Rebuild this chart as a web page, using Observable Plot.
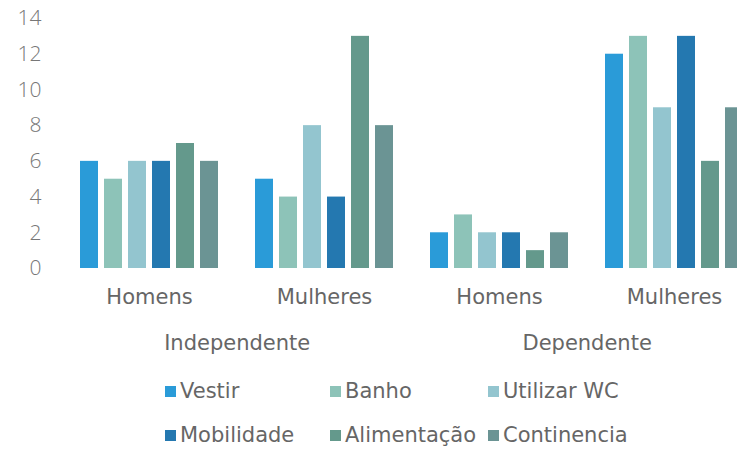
<!DOCTYPE html>
<html>
<head>
<meta charset="utf-8">
<script src="https://cdn.jsdelivr.net/npm/d3@7"></script>
<script src="https://cdn.jsdelivr.net/npm/@observablehq/plot@0.6"></script>
<style>
  html, body { margin: 0; padding: 0; background: #fff; overflow: hidden; width: 737px; height: 449px; }
  #chart { width: 737px; height: 365px; overflow: hidden; }
  #chart svg { display: block; max-width: none !important; height: 365px !important; }
  #legend { position: relative; height: 84px; font-family: "DejaVu Sans", sans-serif; font-size: 21px; color: #666; }
  .item { position: absolute; display: flex; align-items: center; height: 44px; }
  .sw { width: 11px; height: 11px; margin-right: 4px; display: inline-block; }
</style>
</head>
<body>
<div id="chart"></div>
<div id="legend"></div>
<script>
const groups = ["Independente", "Dependente"];
const sexes = ["Homens", "Mulheres"];
const activities = ["Vestir", "Banho", "Utilizar WC", "Mobilidade", "Alimentação", "Continencia"];
const colors = ["#2a9bd8", "#8dc3b8", "#93c5cf", "#2478b0", "#64998c", "#6b9494"];
// values in order: Independente-Homens, Independente-Mulheres, Dependente-Homens, Dependente-Mulheres
const vestir      = [6, 5, 2, 12];
const banho       = [5, 4, 3, 13];
const utilizarWC  = [6, 8, 2, 9];
const mobilidade  = [6, 4, 2, 13];
const alimentacao = [7, 13, 1, 6];
const continencia = [6, 8, 2, 9];
const yTicks = [0, 2, 4, 6, 8, 10, 12, 14];

const series = [vestir, banho, utilizarWC, mobilidade, alimentacao, continencia];
const keys = [];
for (const g of groups) for (const s of sexes) keys.push(g + "|" + s);
const data = [];
activities.forEach((a, i) => keys.forEach((k, j) => data.push({key: k, activity: a, value: series[i][j]})));
const groupLabels = groups.map((g) => ({key: g + "|" + sexes[0], label: g}));

const pad = 0.19;
const width = 745, marginLeft = 77;
const step = (width - marginLeft) / (keys.length - pad);

const chart = Plot.plot({
  width,
  height: 365,
  marginLeft,
  marginRight: 0,
  marginTop: 18,
  marginBottom: 97,
  style: {fontFamily: "'DejaVu Sans', sans-serif", fontSize: "21px", color: "#666", background: "#fff"},
  fx: {domain: keys, paddingInner: pad, paddingOuter: 0, label: null, axis: null},
  x: {domain: activities, paddingInner: 0.24, paddingOuter: 0.04, axis: null},
  y: {domain: [0, 14], label: null},
  color: {domain: activities, range: colors},
  marks: [
    Plot.barY(data, {fx: "key", x: "activity", y: "value", fill: "activity"}),
    Plot.axisY({ticks: yTicks, tickSize: 0, tickPadding: 37, dy: 0, fontSize: 21, fontFamily: "'Open Sans', sans-serif", fontWeight: 300, fill: "#777", label: null}),
    Plot.axisFx({anchor: "bottom", tickFormat: (d) => d.split("|")[1], tickSize: 0, tickPadding: 21, fontSize: 21, fill: "#666", label: null}),
    Plot.text(groupLabels, {fx: "key", text: "label", frameAnchor: "bottom-right", textAnchor: "middle", dx: step * pad / 2, dy: 81, fontSize: 21, fill: "#666"})
  ]
});
document.getElementById("chart").appendChild(chart);

const legend = document.getElementById("legend");
const cols = [165, 330, 488];
activities.forEach((a, i) => {
  const el = document.createElement("div");
  el.className = "item";
  el.style.left = cols[i % 3] + "px";
  el.style.top = (4 + Math.floor(i / 3) * 44) + "px";
  el.innerHTML = `<span class="sw" style="background:${colors[i]}"></span><span>${a}</span>`;
  legend.appendChild(el);
});
</script>
</body>
</html>
